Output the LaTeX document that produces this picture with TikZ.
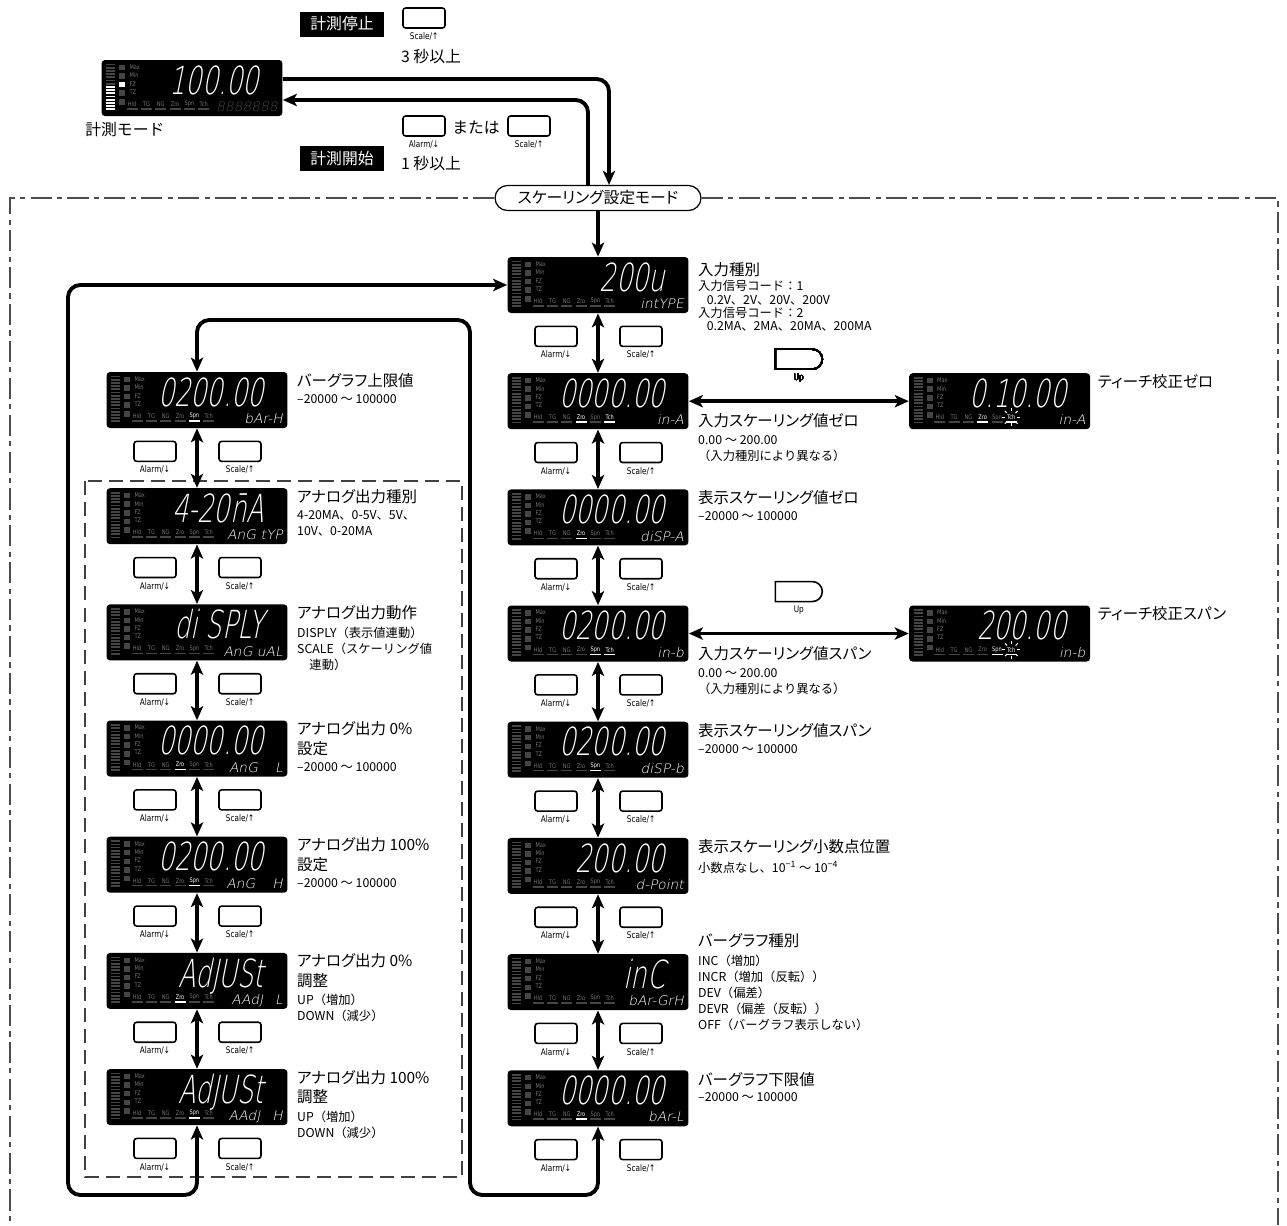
\documentclass[tikz,border=0pt]{standalone}
\usepackage{fontspec}
\setmainfont{Noto Sans CJK JP}
\newfontfamily\pfont{Noto Sans CJK JP}[RawFeature=+palt]
\IfFontExistsTF{DejaVuSans-ExtraLight.ttf}
  {\newfontfamily\segfont{DejaVuSans-ExtraLight.ttf}[FakeSlant=0.2,FakeStretch=0.66]
   \newfontfamily\codefont{DejaVuSans-ExtraLight.ttf}[FakeSlant=0.2,FakeStretch=1.05]}
  {\newfontfamily\segfont{DejaVu Sans}[FakeSlant=0.2,FakeStretch=0.66]
   \newfontfamily\codefont{DejaVu Sans}[FakeSlant=0.2,FakeStretch=1.05]}
\newfontfamily\keyfont{DejaVu Sans}[FakeStretch=0.8]
\usepackage{tikz}
\usetikzlibrary{shapes.misc,arrows.meta,positioning,calc}
\usepackage{xcolor}
\definecolor{lcdgray}{gray}{0.27}
\definecolor{lcdtxt}{gray}{0.45}

% one LCD panel: name, placement, big text, code text, lit labels
\newcommand\lcdpanel[5]{%
  \node[lcd,#2] (#1) {};
  \foreach \lbl in {#5} {\ifx\lbl\empty\else\expandafter\gdef\csname lit@#1@\lbl\endcsname{}\fi}
  \begin{scope}[shift={(#1.north west)}]
    \foreach \k in {0,...,14}
      \fill[lcdgray] (5,{4+\k*3.2}) rectangle (14,{5.7+\k*3.2});
    \foreach \k/\lbl in {0/HH,1/H,2/P,3/L,4/LL}
      \fill[lcdgray] (18,{5+\k*8.6}) coordinate (#1-\lbl) rectangle (24,{10.5+\k*8.6});
    \foreach \k/\lbl in {0/Max,1/Min,2/FZ,3/TZ}
      \node[lcdtiny] (#1-\lbl) at (28,{7.5+\k*8.3}) {\lbl};
    \foreach \k/\lbl in {0/Hld,1/TG,2/NG,3/Zro,4/Spn,5/Tch} {
      \ifcsname lit@#1@\lbl\endcsname\def\lcol{white}\def\bcol{white}\else\def\lcol{lcdtxt}\def\bcol{lcdgray}\fi
      \node[lcdtiny,anchor=center,text=\lcol] (#1-\lbl) at ({31+\k*14.3},44.5) {\lbl};
      \fill[\bcol] ({25.5+\k*14.3},48.5) rectangle ({36.5+\k*14.3},50.1);
    }
    \node[lcdbig] (#1-big) at (158,34.5) {#3};
    \node[lcdcode] (#1-code) at (177,52) {#4};
  \end{scope}
}
% Alarm and Scale keys under a panel
\newcommand\btnpair[1]{%
  \node[btn, label={[keylbl]below:Alarm/↓}] (#1-al) at ($(#1.south)+(-42,23)$) {};
  \node[btn, label={[keylbl]below:Scale/↑}] (#1-sc) at ($(#1.south)+(43,23)$) {};
}

\begin{document}
\begin{tikzpicture}[
    x=0.02cm, y=-0.02cm,
    node distance=1.19cm and 4.4cm,
    label distance=1pt,
    lcd/.style={rectangle, fill=black, rounded corners=2pt, minimum width=3.62cm, minimum height=1.12cm, inner sep=0pt},
    lcdtiny/.style={font=\keyfont\fontsize{3.6}{3.6}\selectfont, text=lcdtxt, inner sep=0pt, anchor=west},
    lcdbig/.style={font=\segfont\fontsize{22}{22}\selectfont, text=white, inner sep=0pt, anchor=base east},
    lcdcode/.style={font=\codefont\fontsize{7.5}{7.5}\selectfont, text=white, inner sep=0pt, anchor=base east},
    btn/.style={draw, line width=0.9pt, rounded corners=1.5pt, minimum width=0.84cm, minimum height=0.4cm, inner sep=0pt},
    upbtn/.style={rounded rectangle, rounded rectangle left arc=none, draw, line width=0.9pt, minimum width=0.94cm, minimum height=0.4cm, inner sep=0pt},
    keylbl/.style={font=\keyfont\fontsize{5.2}{5.2}\selectfont, inner sep=1pt},
    tagbox/.style={fill=black, text=white, minimum width=1.7cm, minimum height=0.5cm, inner sep=0pt, font=\fontsize{9}{9}\selectfont},
    modebox/.style={rounded rectangle, draw, line width=0.7pt, fill=white, minimum width=4.12cm, minimum height=0.5cm, inner sep=0pt, font=\pfont\fontsize{9}{9}\selectfont},
    note/.style={inner sep=0pt, font=\fontsize{9}{9}\selectfont},
    ttl/.style={anchor=north west, inner sep=0pt, align=left, font=\pfont\fontsize{8.8}{11.3}\selectfont},
    dsc/.style={anchor=north west, inner sep=0pt, align=left, font=\fontsize{7}{9.1}\selectfont},
    flow/.style={line width=2.2pt, rounded corners=7pt},
    onearr/.style={-{Stealth[length=8pt,width=7pt,inset=2pt]}},
    twoarr/.style={{Stealth[length=8pt,width=7pt,inset=2pt]}-{Stealth[length=8pt,width=7pt,inset=2pt]}},
    dashframe/.style={draw=black!70, line width=0.7pt, dash pattern=on 12pt off 3pt on 3pt off 3pt},
    innerbox/.style={draw=black!75, line width=0.7pt, dash pattern=on 8pt off 4pt}
  ]
  \useasboundingbox (0,0) rectangle (1287,1225);

  % Measure mode
  \lcdpanel{meas}{at={(192,88)}}{100.00}{\textcolor{lcdgray}{8888888}}{}
  \foreach \k in {7,...,14}
    \fill[white] ($(meas.north west)+(5,{4+\k*3.2})$) rectangle ++(9,1.7);
  \fill[white] (meas-P) rectangle ++(6,5.5);
  \node[note, anchor=west] (measname) at (85,130) {計測モード};

  \node[tagbox] (stop) at (342,24) {計測停止};
  \node[btn, label={[keylbl]below:Scale/↑}] (stopkey) at (424,18) {};
  \node[note] (stoptime) at (431,57) {3 秒以上};
  \node[tagbox] (start) at (342,158) {計測開始};
  \node[btn, label={[keylbl]below:Alarm/↓}] (startal) at (424,126) {};
  \node[note] (startor) at (476,128) {または};
  \node[btn, label={[keylbl]below:Scale/↑}] (startsc) at (529,126) {};
  \node[note] (starttime) at (431,164) {1 秒以上};

  \node[modebox] (mode) at (598,198) {スケーリング設定モード};
  \draw[dashframe] (mode.west) -- (10,198) -- (10,1225);
  \draw[dashframe] (mode.east) -- (1278,198) -- (1278,1225);
  \draw[innerbox] (85,481) rectangle (462,1177);

  % Right column
  \lcdpanel{intype}{at={(598,285)}}{200u}{intYPE}{}
  \lcdpanel{inA}{below=of intype}{0000.00}{in-A}{Zro,Tch}
  \lcdpanel{dspA}{below=of inA}{0000.00}{diSP-A}{Zro}
  \lcdpanel{inB}{below=of dspA}{0200.00}{in-b}{Spn,Tch}
  \lcdpanel{dspB}{below=of inB}{0200.00}{diSP-b}{Spn}
  \lcdpanel{dpoint}{below=of dspB}{200.00}{d-Point}{}
  \lcdpanel{bartype}{below=of dpoint}{inC}{bAr-GrH}{}
  \lcdpanel{barL}{below=of bartype}{0000.00}{bAr-L}{Zro}

  % Teach panels
  \lcdpanel{tchzero}{right=of inA}{0.10.00}{in-A}{Zro,Tch}
  \lcdpanel{tchspan}{right=of inB}{200.00}{in-b}{Spn,Tch}
  \foreach \p in {tchzero,tchspan}
    \foreach \a in {0,45,...,315}
      \draw[white, line width=0.6pt] ($(\p-Tch)+(\a:6)$) -- ($(\p-Tch)+(\a:9)$);

  % Left column
  \lcdpanel{barH}{at={(197,400)}}{0200.00}{bAr-H}{Spn}
  \lcdpanel{angtype}{below=of barH}{4-20\=nA}{AnG tYP}{}
  \lcdpanel{angmode}{below=of angtype}{di SPLY}{AnG uAL}{}
  \lcdpanel{ang0}{below=of angmode}{0000.00}{AnG\hspace{1.3em}L}{Zro}
  \lcdpanel{ang100}{below=of ang0}{0200.00}{AnG\hspace{1.3em}H}{Spn}
  \lcdpanel{adj0}{below=of ang100}{AdJUSt}{AAdJ\hspace{0.9em}L}{Zro}
  \lcdpanel{adj100}{below=of adj0}{AdJUSt}{AAdJ\hspace{0.9em}H}{Spn}

  % Keys
  \foreach \p in {intype,inA,dspA,inB,dspB,dpoint,bartype,barL,barH,angtype,angmode,ang0,ang100,adj0,adj100}
    \btnpair{\p}
  \node[upbtn, label={[keylbl]below:Up}] (upzero) at ($(inA.east)!0.5!(tchzero.west)+(0,-42)$) {};
  \node[upbtn, label={[keylbl]below:Up}] (upspan) at ($(inB.east)!0.5!(tchspan.west)+(0,-42)$) {};

  % Texts
  \node[ttl] (intype-t) at ($(intype.north east)+(9,6)$) {入力種別};
  \node[dsc, font=\fontsize{7}{7.6}\selectfont] (intype-d) at ($(intype.north east)+(9,23.5)$)
    {入力信号コード：1\\\hspace*{0.7em}0.2V、2V、20V、200V\\入力信号コード：2\\\hspace*{0.7em}0.2MA、2MA、20MA、200MA};
  \node[ttl] (inA-t) at ($(inA.north east)+(9,40)$) {入力スケーリング値ゼロ};
  \node[dsc] (inA-d) at ($(inA.north east)+(9,62.5)$) {0.00 〜 200.00\\（入力種別により異なる）};
  \node[ttl] (dspA-t) at ($(dspA.north east)+(9,1)$) {表示スケーリング値ゼロ};
  \node[dsc] (dspA-d) at ($(dspA.north east)+(9,22.5)$) {–20000 〜 100000};
  \node[ttl] (inB-t) at ($(inB.north east)+(9,41)$) {入力スケーリング値スパン};
  \node[dsc] (inB-d) at ($(inB.north east)+(9,63.5)$) {0.00 〜 200.00\\（入力種別により異なる）};
  \node[ttl] (dspB-t) at ($(dspB.north east)+(9,2)$) {表示スケーリング値スパン};
  \node[dsc] (dspB-d) at ($(dspB.north east)+(9,22.5)$) {–20000 〜 100000};
  \node[ttl] (dpoint-t) at ($(dpoint.north east)+(9,2)$) {表示スケーリング小数点位置};
  \node[dsc] (dpoint-d) at ($(dpoint.north east)+(9,23.5)$) {小数点なし、10\textsuperscript{−1} 〜 10\textsuperscript{−4}};
  \node[ttl] (bartype-t) at ($(bartype.north east)+(9,-21)$) {バーグラフ種別};
  \node[dsc] (bartype-d) at ($(bartype.north east)+(9,0.5)$)
    {INC（増加）\\INCR（増加（反転））\\DEV（偏差）\\DEVR（偏差（反転））\\OFF（バーグラフ表示しない）};
  \node[ttl] (barL-t) at ($(barL.north east)+(9,2)$) {バーグラフ下限値};
  \node[dsc] (barL-d) at ($(barL.north east)+(9,22.5)$) {–20000 〜 100000};
  \node[ttl] (tchzero-t) at ($(tchzero.north east)+(7,1)$) {ティーチ校正ゼロ};
  \node[ttl] (tchspan-t) at ($(tchspan.north east)+(7,1)$) {ティーチ校正スパン};

  \node[ttl] (barH-t) at ($(barH.north east)+(9,1)$) {バーグラフ上限値};
  \node[dsc] (barH-d) at ($(barH.north east)+(9,22.5)$) {–20000 〜 100000};
  \node[ttl] (angtype-t) at ($(angtype.north east)+(9,1)$) {アナログ出力種別};
  \node[dsc] (angtype-d) at ($(angtype.north east)+(9,22.5)$) {4-20MA、0-5V、5V、\\10V、0-20MA};
  \node[ttl] (angmode-t) at ($(angmode.north east)+(9,1)$) {アナログ出力動作};
  \node[dsc] (angmode-d) at ($(angmode.north east)+(9,22.5)$) {DISPLY（表示値連動）\\SCALE（スケーリング値\\\hspace*{1em}連動）};
  \node[ttl] (ang0-t) at ($(ang0.north east)+(9,1)$) {アナログ出力 0\%\\設定};
  \node[dsc] (ang0-d) at ($(ang0.north east)+(9,42)$) {–20000 〜 100000};
  \node[ttl] (ang100-t) at ($(ang100.north east)+(9,1)$) {アナログ出力 100\%\\設定};
  \node[dsc] (ang100-d) at ($(ang100.north east)+(9,42)$) {–20000 〜 100000};
  \node[ttl] (adj0-t) at ($(adj0.north east)+(9,1)$) {アナログ出力 0\%\\調整};
  \node[dsc] (adj0-d) at ($(adj0.north east)+(9,41.5)$) {UP（増加）\\DOWN（減少）};
  \node[ttl] (adj100-t) at ($(adj100.north east)+(9,1)$) {アナログ出力 100\%\\調整};
  \node[dsc] (adj100-d) at ($(adj100.north east)+(9,41.5)$) {UP（増加）\\DOWN（減少）};

  % Arrows
  \draw[flow,onearr] ([yshift=0.18cm]meas.east) -| ([xshift=0.22cm]mode.north);
  \draw[flow,onearr] ([xshift=-0.2cm]mode.north) |- ([yshift=-0.24cm]meas.east);
  \draw[flow,onearr] (mode) -- (intype);
  \foreach \a/\b in {intype/inA,inA/dspA,dspA/inB,inB/dspB,dspB/dpoint,dpoint/bartype,bartype/barL,
                     barH/angtype,angtype/angmode,angmode/ang0,ang0/ang100,ang100/adj0,adj0/adj100}
    \draw[flow,twoarr] (\a) -- (\b);
  \draw[flow,twoarr] (inA) -- (tchzero);
  \draw[flow,twoarr] (inB) -- (tchspan);
  \coordinate (loopL) at (68,1195);
  \coordinate (loopR) at (470,1195);
  \coordinate (loopT) at (197,320);
  \draw[flow,twoarr] (adj100.south) |- (loopL) |- (intype.west);
  \draw[flow,twoarr] (barL.south) |- (loopR) |- (loopT) -- (barH.north);
\end{tikzpicture}
\end{document}
